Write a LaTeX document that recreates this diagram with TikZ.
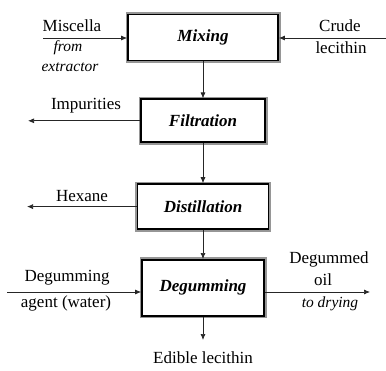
\documentclass[tikz,border=0pt]{standalone}
\usepackage{fontspec}
\setmainfont{Liberation Serif}
\usetikzlibrary{arrows.meta,positioning}
\definecolor{framegray}{RGB}{150,150,150}
\tikzset{
  stage/.style={
    draw=black,
    line width=1.8pt,
    fill=white,
    preaction={draw=framegray, line width=5pt},
    font=\fontsize{17}{20}\selectfont\bfseries\itshape,
    inner sep=2pt
  },
  flow/.style={-{Latex[length=6pt,width=5pt]}, line width=0.7pt, draw=black!85},
  lbl/.style={font=\fontsize{17}{20}\selectfont, inner sep=0pt},
  note/.style={font=\fontsize{15.5}{18}\selectfont\itshape, inner sep=0pt}
}

\begin{document}
\begin{tikzpicture}[x=1pt, y=-1pt]
        \useasboundingbox (0,0) rectangle (386,370);
        \node[stage, minimum width=150pt, minimum height=46pt] (mix) at (203,37.5) {Mixing};
        \node[stage, below=37pt of mix, minimum width=124pt, minimum height=43pt] (filt) {Filtration};
        \node[stage, below=40pt of filt, minimum width=131pt, minimum height=45pt] (dist) {Distillation};
        \node[stage, below=29pt of dist, minimum width=122pt, minimum height=56pt] (degum) {Degumming};
        % free ends of the side streams
        \coordinate (misc) at (43,38);
        \coordinate (crude) at (386,38);
        \coordinate (imp) at (28,121);
        \coordinate (hex) at (27,207);
        \coordinate (agent) at (7,292);
        \coordinate (oil) at (370,292);
        \coordinate (edible) at (203,340);
        \draw[flow] (misc) -- (misc -| mix.west);
        \draw[flow] (crude) -- (crude -| mix.east);
        \draw[flow] (mix) -- (filt);
        \draw[flow] (filt) -- (dist);
        \draw[flow] (dist) -- (degum);
        \draw[flow] (filt.west) -- (filt.west -| imp);
        \draw[flow] (dist.west) -- (dist.west -| hex);
        \draw[flow] (agent) -- (agent -| degum.west);
        \draw[flow] (oil -| degum.east) -- (oil);
        \draw[flow] (degum) -- (edible);
        % labels
        \node[lbl] (miscl) at (72,26) {Miscella};
        \node[note] (froml) at (68,48) {from};
        \node[note] (extrl) at (70,67) {extractor};
        \node[lbl] (crudel) at (340,26) {Crude};
        \node[lbl] (lecl) at (341,48) {lecithin};
        \node[lbl] (impl) at (86,106) {Impurities};
        \node[lbl] (hexl) at (82,196) {Hexane};
        \node[lbl] (agl) at (67,278) {Degumming};
        \node[lbl] (agl2) at (66,303) {agent (water)};
        \node[lbl] (oill) at (329,259) {Degummed};
        \node[lbl] (oill2) at (323,280) {oil};
        \node[note] (dryl) at (330,304) {to drying};
        \node[lbl] (edl) at (203,358) {Edible lecithin};
\end{tikzpicture}
\end{document}
